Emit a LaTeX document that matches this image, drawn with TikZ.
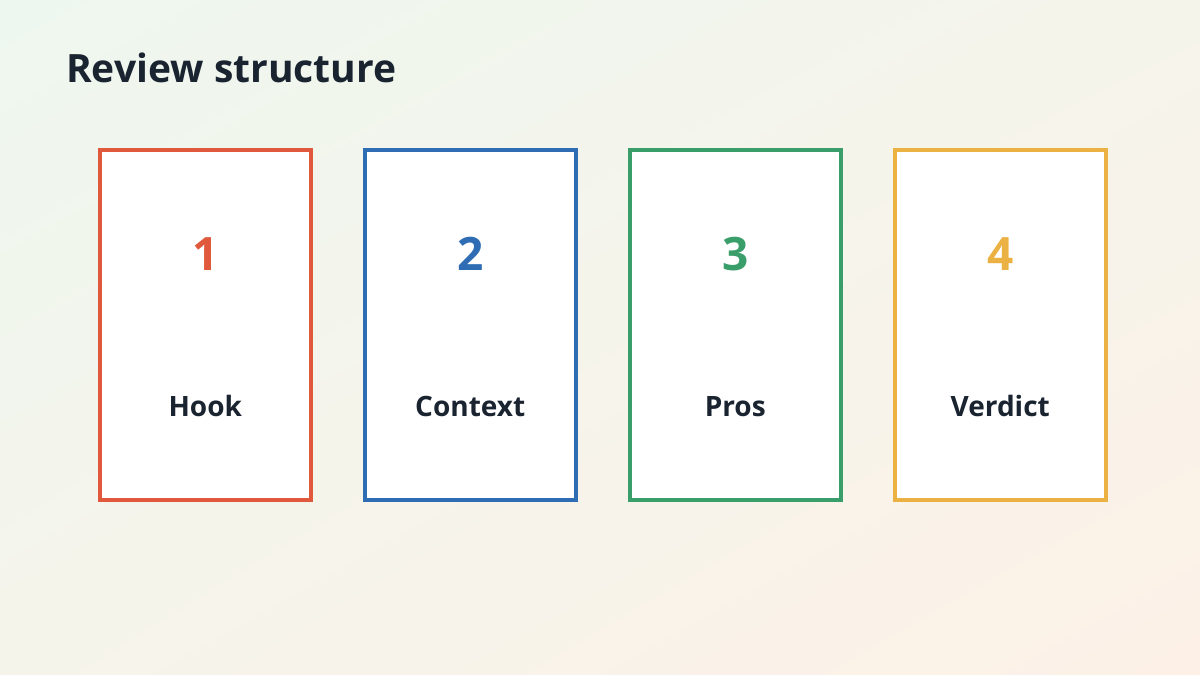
\documentclass[tikz,border=0pt]{standalone}
\usepackage{fontspec}
\setmainfont{Open Sans}
\usetikzlibrary{shadings}
\definecolor{bgA}{HTML}{EEF7EF}
\definecolor{bgB}{HTML}{FDF1E7}
\definecolor{bgM}{HTML}{F5F4EB}
\definecolor{ink}{HTML}{1A2330}
\definecolor{cRed}{HTML}{E0593C}
\definecolor{cBlue}{HTML}{2E6DB4}
\definecolor{cGreen}{HTML}{3A9E6A}
\definecolor{cYellow}{HTML}{EBB143}
\tikzset{
  card/.style={draw=#1, line width=4pt, fill=white, minimum width=210.5pt, minimum height=350pt, anchor=north west, inner sep=0pt, outer sep=0pt},
  num/.style={text=#1, font=\fontsize{46}{56}\selectfont\bfseries, anchor=base, inner sep=0pt},
  lbl/.style={text=ink, font=\fontsize{28}{34}\selectfont\bfseries, anchor=base, inner sep=0pt},
}
\begin{document}
\begin{tikzpicture}[x=1pt,y=-1pt]
\useasboundingbox (0,0) rectangle (1200,675);
\shade[upper left=bgA, lower right=bgB, upper right=bgM, lower left=bgM] (0,0) rectangle (1200,675);
\node[anchor=base west, inner sep=0pt, text=ink, font=\fontsize{39}{47}\selectfont\bfseries] (title) at (66,82) {Review structure};
\foreach \i/\c/\t in {0/cRed/Hook,1/cBlue/Context,2/cGreen/Pros,3/cYellow/Verdict}{
  \node[card=\c] (card\i) at ({100+265*\i},150) {};
  \node[num=\c] (num\i) at ({205.25+265*\i},270) {\the\numexpr\i+1\relax};
  \node[lbl] (lbl\i) at ({205.25+265*\i},416) {\t};
}
\end{tikzpicture}
\end{document}
